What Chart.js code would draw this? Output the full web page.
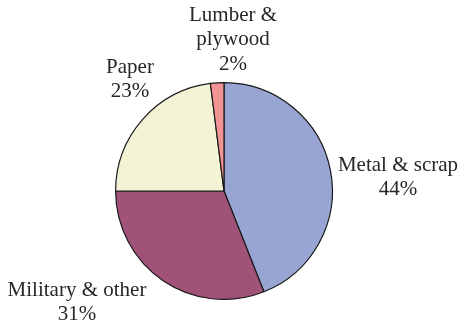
<!DOCTYPE html>
<html>
<head>
<meta charset="utf-8">
<script src="https://cdn.jsdelivr.net/npm/chart.js@4"></script>
<style>
  html, body { margin: 0; padding: 0; background: #fff; }
  canvas { display: block; }
  .warm { font-family: "Liberation Serif"; position: absolute; left: -999px; }
</style>
</head>
<body>
<span class="warm">Metal &amp; scrap 44%</span>
<canvas id="chart" width="466" height="326"></canvas>
<script>
// data
const categories = ["Metal & scrap", "Military & other", "Paper", "Lumber & plywood"];
const shares = [44, 31, 23, 2];
const sliceColors = ["#98a5d3", "#a05278", "#f5f3d5", "#f29495"];

// label text lines and where they sit (layout only)
const labelLines = [
  ["Metal & scrap", "44%"],
  ["Military & other", "31%"],
  ["Paper", "23%"],
  ["Lumber &", "plywood", "2%"]
];
const labelSpots = [[398, 165], [77, 290], [130, 67], [233, 15]];

const labelPlugin = {
  id: "sliceLabels",
  afterDraw(chart) {
    const ctx = chart.ctx;
    ctx.save();
    ctx.font = "21px \"Liberation Serif\", \"Times New Roman\", serif";
    ctx.fillStyle = "#2a2627";
    ctx.textAlign = "center";
    ctx.textBaseline = "middle";
    labelLines.forEach((lines, i) => {
      const [x, y] = labelSpots[i];
      lines.forEach((t, k) => {
        ctx.fillText(t, x, y + k * 24.5);
      });
    });
    ctx.restore();
  }
};

function draw() {
  const canvas = document.getElementById("chart");
  new Chart(canvas, {
    type: "pie",
    data: {
      labels: categories,
      datasets: [{
        data: shares,
        backgroundColor: sliceColors,
        borderColor: "#1a1a1a",
        borderWidth: 1.2
      }]
    },
    options: {
      responsive: false,
      animation: false,
      rotation: 0,
      layout: { padding: { left: 115, right: 133, top: 82, bottom: 26 } },
      plugins: {
        legend: { display: false },
        tooltip: { enabled: false }
      }
    },
    plugins: [labelPlugin]
  });
}

if (document.fonts && document.fonts.load) {
  document.fonts.load("21px \"Liberation Serif\"").then(draw, draw);
} else {
  draw();
}
</script>
</body>
</html>
